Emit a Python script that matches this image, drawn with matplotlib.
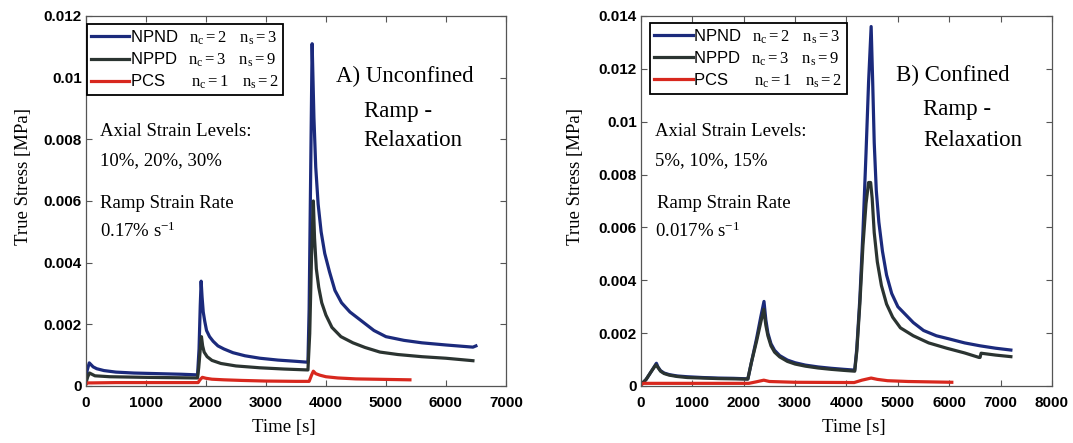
import numpy as np
import matplotlib
matplotlib.use("Agg")
import matplotlib.pyplot as plt
from matplotlib.ticker import FuncFormatter, MultipleLocator

plt.rcParams['mathtext.fontset'] = 'custom'
plt.rcParams['mathtext.rm'] = 'Liberation Serif'
plt.rcParams['mathtext.it'] = 'Liberation Serif:italic'

# ---- panel A: unconfined ramp-relaxation ----
a_npnd_t = [0, 20, 55, 120, 180, 300, 500, 800, 1200, 1600, 1860, 1885, 1905, 1920, 1935, 1955,
            1980, 2010, 2060, 2120, 2200, 2300, 2450, 2650, 2900, 3200, 3500, 3700, 3720, 3745,
            3770, 3800, 3830, 3870, 3920, 3980, 4060, 4150, 4260, 4400, 4600, 4800, 5000, 5300,
            5600, 6000, 6450, 6500]
a_npnd_v = [0.00015, 0.0005, 0.00075, 0.00062, 0.00056, 0.0005, 0.00045, 0.00042, 0.0004, 0.00038,
            0.00036, 0.0012, 0.0026, 0.0034, 0.0029, 0.0024, 0.0021, 0.0018, 0.0016, 0.00145,
            0.0013, 0.0012, 0.00108, 0.00098, 0.0009, 0.00084, 0.0008, 0.00077, 0.0025, 0.0068,
            0.0111, 0.0087, 0.0071, 0.0059, 0.005, 0.0043, 0.0037, 0.0031, 0.0027, 0.0024,
            0.0021, 0.0018, 0.0016, 0.00148, 0.0014, 0.00133, 0.00126, 0.0013]

a_nppd_t = [0, 30, 60, 150, 400, 1000, 1860, 1880, 1910, 1925, 1945, 1970, 2020, 2100, 2250,
            2500, 2900, 3300, 3700, 3730, 3760, 3790, 3810, 3840, 3880, 3930, 4000, 4100, 4250,
            4450, 4650, 4900, 5200, 5600, 6000, 6450]
a_nppd_v = [0.0001, 0.0003, 0.00042, 0.00033, 0.0003, 0.00028, 0.00026, 0.0006, 0.0013, 0.0016,
            0.0013, 0.0011, 0.00095, 0.00083, 0.00073, 0.00065, 0.00059, 0.00055, 0.00052, 0.0017,
            0.0042, 0.006, 0.0048, 0.0038, 0.0032, 0.0027, 0.0023, 0.0019, 0.0016, 0.0014,
            0.00125, 0.0011, 0.00102, 0.00095, 0.0009, 0.00082]

a_pcs_t = [0, 30, 100, 500, 1000, 1500, 1870, 1900, 1940, 2000, 2100, 2300, 2600, 3000, 3500,
           3720, 3760, 3790, 3830, 3900, 4000, 4200, 4500, 4800, 5100, 5400]
a_pcs_v = [0.00005, 0.0001, 0.0001, 0.00011, 0.00011, 0.00011, 0.00011, 0.0002, 0.00028, 0.00025,
           0.00022, 0.0002, 0.00018, 0.00016, 0.00015, 0.00015, 0.00035, 0.00048, 0.0004, 0.00035,
           0.0003, 0.00026, 0.00023, 0.00022, 0.00021, 0.0002]

# ---- panel B: confined ramp-relaxation ----
b_npnd_t = [0, 100, 200, 280, 300, 330, 380, 450, 550, 700, 900, 1200, 1500, 1800, 2080, 2150,
            2250, 2330, 2394, 2430, 2470, 2530, 2600, 2700, 2850, 3000, 3200, 3450, 3700, 3950,
            4160, 4200, 4260, 4320, 4380, 4430, 4480, 4510, 4540, 4580, 4630, 4700, 4780, 4880,
            5000, 5150, 5300, 5500, 5750, 6000, 6300, 6600, 6900, 7200]
b_npnd_v = [0.00005, 0.00025, 0.00055, 0.0008, 0.00086, 0.00072, 0.00058, 0.00049, 0.00043,
            0.00038, 0.00035, 0.00032, 0.0003, 0.00029, 0.00027, 0.0009, 0.0018, 0.0026, 0.0032,
            0.0025, 0.002, 0.0016, 0.00135, 0.00115, 0.00098, 0.00088, 0.00079, 0.00072, 0.00067,
            0.00063, 0.0006, 0.0014, 0.0033, 0.0058, 0.0088, 0.0115, 0.0136, 0.0115, 0.0092,
            0.0074, 0.0062, 0.0051, 0.0042, 0.0035, 0.003, 0.0027, 0.0024, 0.0021, 0.0019,
            0.00178, 0.00163, 0.00152, 0.00143, 0.00136]

b_nppd_t = [0, 100, 200, 290, 330, 380, 450, 550, 700, 900, 1200, 1500, 1800, 2080, 2150, 2250,
            2330, 2390, 2430, 2470, 2530, 2600, 2700, 2850, 3000, 3200, 3450, 3700, 3950, 4160,
            4200, 4260, 4320, 4380, 4430, 4470, 4500, 4540, 4600, 4680, 4780, 4900, 5050, 5300,
            5600, 5950, 6300, 6580, 6600, 6620, 6900, 7200]
b_nppd_v = [0.00005, 0.00025, 0.00055, 0.0008, 0.0007, 0.00056, 0.00047, 0.00041, 0.00036,
            0.00032, 0.0003, 0.00028, 0.00027, 0.00026, 0.0009, 0.0017, 0.0024, 0.0029, 0.0023,
            0.0019, 0.00152, 0.00128, 0.0011, 0.00093, 0.00083, 0.00075, 0.00068, 0.00063,
            0.00059, 0.00056, 0.0013, 0.0031, 0.0053, 0.0069, 0.0077, 0.0077, 0.0071, 0.0058,
            0.0047, 0.0038, 0.0031, 0.0026, 0.0022, 0.0019, 0.00163, 0.00143, 0.00125, 0.00108,
            0.00108, 0.00124, 0.00117, 0.00111]

b_pcs_t = [0, 50, 1000, 2100, 2250, 2390, 2500, 3000, 4150, 4300, 4480, 4600, 4800, 5200, 6050]
b_pcs_v = [0.00005, 0.0001, 0.0001, 0.0001, 0.00016, 0.00022, 0.00017, 0.00014, 0.00013, 0.00022,
           0.0003, 0.00025, 0.0002, 0.00017, 0.00014]

legend_labels = [r'NPND$\quad\mathrm{n_c = 2}\quad\,\mathrm{n_s = 3}$',
                 r'NPPD$\quad\mathrm{n_c = 3}\quad\,\mathrm{n_s = 9}$',
                 r'PCS$\qquad\;\mathrm{n_c = 1}\quad\,\mathrm{n_s = 2}$']
colors = ['#1b2a7c', '#2b3431', '#d8281e']

serif = 'Liberation Serif'
sans = 'Liberation Sans'

fig = plt.figure(figsize=(10.73, 4.43), dpi=100)
axA = fig.add_axes([0.0801, 0.1287, 0.3914, 0.8352])
axB = fig.add_axes([0.5974, 0.1287, 0.3830, 0.8352])


def style(ax, xmax, ymax, leg_anchor, ylab_x, xlab_x):
    ax.set_xlim(0, xmax)
    ax.set_ylim(0, ymax)
    ax.xaxis.set_major_locator(MultipleLocator(1000))
    ax.yaxis.set_major_locator(MultipleLocator(0.002))
    ax.yaxis.set_major_formatter(FuncFormatter(lambda v, p: '%g' % round(v, 6)))
    ax.tick_params(direction='in', top=True, right=True, length=4, width=0.8, color='#555555')
    ax.tick_params(axis='x', pad=7)
    ax.tick_params(axis='y', pad=3)
    for lab in ax.get_xticklabels() + ax.get_yticklabels():
        lab.set_fontfamily(sans)
        lab.set_fontweight('bold')
        lab.set_fontsize(11)
    for s in ax.spines.values():
        s.set_color('#555555')
        s.set_linewidth(0.9)
    ax.set_xlabel('Time [s]', fontfamily=serif, fontsize=13.5)
    ax.set_ylabel('True Stress [MPa]', fontfamily=serif, fontsize=13.5)
    ax.xaxis.set_label_coords(xlab_x, -0.088)
    ax.yaxis.set_label_coords(ylab_x, 0.566)
    leg = ax.legend(loc='upper left', bbox_to_anchor=leg_anchor, borderaxespad=0,
                    prop={'family': sans, 'size': 12}, handlelength=2.3,
                    handletextpad=0.05, labelspacing=0.22, borderpad=0.25,
                    fancybox=False, framealpha=1, edgecolor='black')
    leg.get_frame().set_linewidth(1.3)


for ax, tt, vv in [(axA, [a_npnd_t, a_nppd_t, a_pcs_t], [a_npnd_v, a_nppd_v, a_pcs_v]),
                   (axB, [b_npnd_t, b_nppd_t, b_pcs_t], [b_npnd_v, b_nppd_v, b_pcs_v])]:
    for t, v, c, lab in zip(tt, vv, colors, legend_labels):
        ax.plot(t, v, color=c, lw=2.3, label=lab, solid_joinstyle='round')

style(axA, 7000, 0.012, (0.002, 0.978), -0.129, 0.472)
style(axB, 8000, 0.014, (0.022, 0.981), -0.139, 0.517)

big = dict(fontfamily=serif, fontsize=16.5, va='baseline')
small = dict(fontfamily=serif, fontsize=13.5, va='baseline')

axA.text(0.595, 0.822, 'A) Unconfined', transform=axA.transAxes, **big)
axA.text(0.661, 0.728, 'Ramp -', transform=axA.transAxes, **big)
axA.text(0.661, 0.649, 'Relaxation', transform=axA.transAxes, **big)
axA.text(0.034, 0.676, 'Axial Strain Levels:', transform=axA.transAxes, **small)
axA.text(0.034, 0.597, '10%, 20%, 30%', transform=axA.transAxes, **small)
axA.text(0.034, 0.481, 'Ramp Strain Rate', transform=axA.transAxes, **small)
axA.text(0.034, 0.403, r'0.17% s$^{\mathrm{-1}}$', transform=axA.transAxes, **small)

axB.text(0.620, 0.825, 'B) Confined', transform=axB.transAxes, **big)
axB.text(0.686, 0.732, 'Ramp -', transform=axB.transAxes, **big)
axB.text(0.686, 0.649, 'Relaxation', transform=axB.transAxes, **big)
axB.text(0.034, 0.676, 'Axial Strain Levels:', transform=axB.transAxes, **small)
axB.text(0.034, 0.597, '5%, 10%, 15%', transform=axB.transAxes, **small)
axB.text(0.038, 0.481, 'Ramp Strain Rate', transform=axB.transAxes, **small)
axB.text(0.033, 0.403, r'0.017% s$^{\mathrm{-1}}$', transform=axB.transAxes, **small)

fig.savefig('out.png', dpi=100)
